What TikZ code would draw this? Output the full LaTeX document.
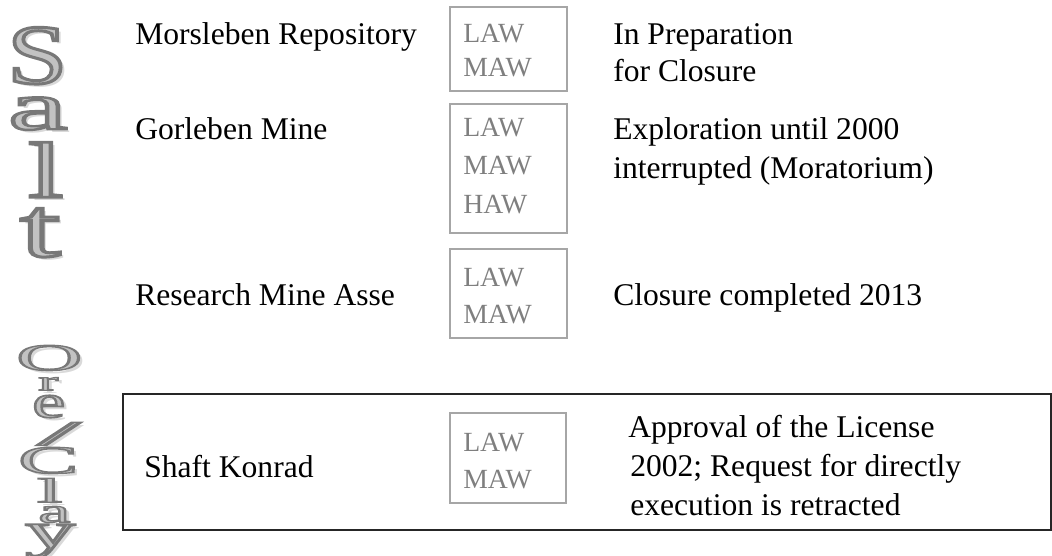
\documentclass[tikz,border=0pt]{standalone}
\usepackage{fontspec}
\usepackage{graphicx}
\setmainfont{Liberation Serif}

\definecolor{wastegray}{HTML}{7F7F7F}
\definecolor{boxgray}{HTML}{A6A6A6}
\definecolor{artgray}{HTML}{B4B4B4}
\definecolor{artshade}{HTML}{D9D9D9}

\tikzset{
  lbl/.style={anchor=base west, inner sep=0pt, font=\fontsize{23.7}{28}\selectfont},
  waste/.style={anchor=base west, inner sep=0pt, text=wastegray, font=\fontsize{20.8}{25}\selectfont},
  wastebox/.style={draw=boxgray, line width=1.1pt},
  frame/.style={draw=black!85, line width=1.2pt},
  artmain/.style={anchor=north west, inner sep=0pt, text=artgray},
  artshadow/.style={anchor=north west, inner sep=0pt, text=artshade},
}

% glyph painted with a light fill and a darker outline (PDF text render mode 2)
\newcommand\outlined[1]{%
  \special{pdf:literal direct q 0.47 G 0.76 g 2 Tr 0.35 w}#1\special{pdf:literal direct Q}}

% one stretched letter of the vertical rock-type captions, with its drop shadow
% #1,#2 top-left corner (px), #3 width, #4 height, #5 letter, #6 node name
\newcommand\artletter[6]{%
  \node[artshadow] (#6s) at (#1+4,#2+3)
    {\resizebox{\dimexpr #3pt*3/4\relax}{\dimexpr #4pt*3/4\relax}{#5}};
  \node[artmain] (#6) at (#1,#2)
    {\resizebox{\dimexpr #3pt*3/4\relax}{\dimexpr #4pt*3/4\relax}{\outlined{#5}}};
}

\begin{document}
\begin{tikzpicture}[x=0.75pt,y=-0.75pt]
\useasboundingbox (0,0) rectangle (1052,556);

% "Salt" written top to bottom
\artletter{7}{27}{60}{56}{S}{saltS}
\artletter{8}{97}{59}{32}{a}{saltA}
\artletter{28}{142}{35}{55}{l}{saltL}
\artletter{20}{208}{40}{48}{t}{saltT}

% "Ore/Clay" written top to bottom
\artletter{16}{345}{66}{25}{O}{clayO}
\artletter{38}{377}{20}{13}{r}{clayR}
\artletter{32}{395}{33}{22}{e}{clayE}
\artletter{37}{422}{43}{23}{/}{claySl}
\artletter{18}{447}{60}{26}{C}{clayC}
\artletter{37}{478}{25}{24}{l}{clayL}
\artletter{38}{506}{32}{16}{a}{clayA}
\artletter{25}{524}{50}{23}{y}{clayY}

% Morsleben
\node[lbl] (morsleben) at (135,45) {Morsleben Repository};
\draw[wastebox] (450,7) rectangle (567,91);
\node[waste] (m1) at (463,43) {LAW};
\node[waste] (m2) at (463,77) {MAW};
\node[lbl] (morsA) at (613,45) {In Preparation};
\node[lbl] (morsB) at (613,82) {for Closure};

% Gorleben
\node[lbl] (gorleben) at (135,140) {Gorleben Mine};
\draw[wastebox] (450,104) rectangle (567,233);
\node[waste] (g1) at (463,137) {LAW};
\node[waste] (g2) at (463,175) {MAW};
\node[waste] (g3) at (463,213) {HAW};
\node[lbl] (gorA) at (613,140) {Exploration until 2000};
\node[lbl] (gorB) at (613,179) {interrupted (Moratorium)};

% Asse
\node[lbl] (asse) at (135,305) {Research Mine Asse};
\draw[wastebox] (450,249) rectangle (567,338);
\node[waste] (a1) at (463,286) {LAW};
\node[waste] (a2) at (463,323) {MAW};
\node[lbl] (asseA) at (613,305) {Closure completed 2013};

% Konrad
\draw[frame] (123,394) rectangle (1051,530);
\node[lbl] (konrad) at (144,477) {Shaft Konrad};
\draw[wastebox] (450,413) rectangle (566,503);
\node[waste] (k1) at (463,451) {LAW};
\node[waste] (k2) at (463,488) {MAW};
\node[lbl] (konA) at (628,437) {Approval of the License};
\node[lbl] (konB) at (630,476) {2002; Request for directly};
\node[lbl] (konC) at (630,515) {execution is retracted};
\end{tikzpicture}
\end{document}
